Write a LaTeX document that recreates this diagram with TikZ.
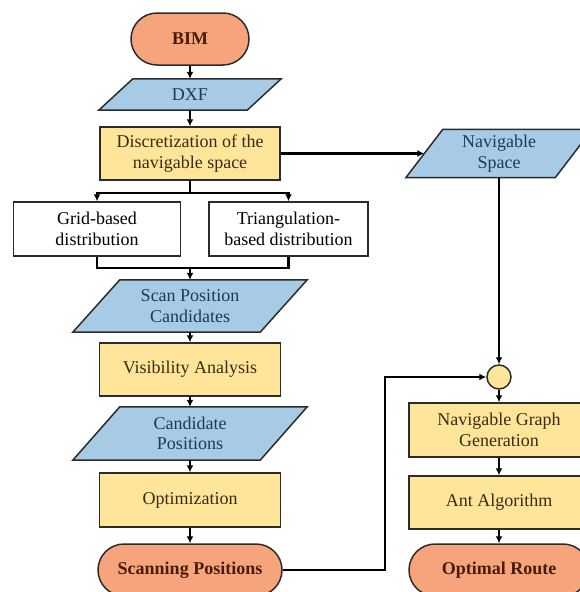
\documentclass[tikz,border=0pt]{standalone}
\usepackage{fontspec}
\setmainfont{Liberation Serif}
\usetikzlibrary{arrows.meta,backgrounds}
\definecolor{orng}{HTML}{F5A47C}
\definecolor{yel}{HTML}{FFE599}
\definecolor{blu}{HTML}{A7CBE5}
\definecolor{edge}{HTML}{2B2B2B}
\definecolor{navy}{HTML}{1C3A56}
\definecolor{brn}{HTML}{3B2A10}
\definecolor{rtxt}{HTML}{4A1C08}
\begin{document}
\begin{tikzpicture}[x=1pt,y=-1pt,
  base/.style={inner sep=0pt, align=center, font=\fontsize{18}{20.5}\selectfont},
  term/.style={base, draw=edge, line width=1.5pt, fill=orng, rounded corners=26pt, text=rtxt, font=\fontsize{18}{20.5}\selectfont\bfseries},
  proc/.style={base, draw=edge, line width=1.5pt, fill=yel, text=brn},
  plainbox/.style={base, draw=edge, line width=1.5pt, fill=white, text=black},
  data/.style={base, text=navy},
  paraedge/.style={draw=edge, line width=1.5pt, fill=blu},
  joint/.style={circle, draw=edge, line width=1.5pt, fill=yel, minimum size=24pt, inner sep=0pt},
  arr/.style={line width=2.4pt, -{Latex[length=7pt,width=7pt]}},
  ln/.style={line width=2.4pt},
]
\useasboundingbox (0,0) rectangle (579,592);

% left column
\node[term, minimum width=118pt, minimum height=52pt] (bim) at (190,39) {BIM};
\node[data, minimum width=148pt, minimum height=31pt] (dxf) at (190,94.5) {DXF};
\node[proc, minimum width=180pt, minimum height=53pt] (disc) at (190,153.5) {Discretization of the\\navigable space};
\node[plainbox, minimum width=167pt, minimum height=54pt] (grid) at (97,229) {Grid-based\\distribution};
\node[plainbox, minimum width=159pt, minimum height=54pt] (tri) at (288.5,229) {Triangulation-\\based distribution};
\node[data, minimum width=187pt, minimum height=52pt] (spc) at (190,306) {Scan Position\\Candidates};
\node[proc, minimum width=181pt, minimum height=53pt] (vis) at (190,369.5) {Visibility Analysis};
\node[data, minimum width=187pt, minimum height=53pt] (cp) at (190,433.5) {Candidate\\Positions};
\node[proc, minimum width=181pt, minimum height=54pt] (opt) at (190,500) {Optimization};
\node[term, minimum width=184pt, minimum height=52pt] (scan) at (190,570) {Scanning Positions};

% right column
\node[data, minimum width=149pt, minimum height=48pt] (nav) at (499,153.5) {Navigable\\Space};
\node[joint] (circ) at (499,377) {};
\node[proc, minimum width=180pt, minimum height=54pt] (ngg) at (499,430) {Navigable Graph\\Generation};
\node[proc, minimum width=180pt, minimum height=53pt] (ant) at (499,502.5) {Ant Algorithm};
\node[term, minimum width=180pt, minimum height=52pt] (route) at (499,570) {Optimal Route};

% parallelograms
\begin{scope}[on background layer]
\draw[paraedge] ([xshift=-17pt]dxf.south west) -- ([xshift=-17pt]dxf.south east) -- ([xshift=17pt]dxf.north east) -- ([xshift=17pt]dxf.north west) -- cycle;
\draw[paraedge] ([xshift=-23.5pt]spc.south west) -- ([xshift=-23.5pt]spc.south east) -- ([xshift=23.5pt]spc.north east) -- ([xshift=23.5pt]spc.north west) -- cycle;
\draw[paraedge] ([xshift=-23.5pt]cp.south west) -- ([xshift=-23.5pt]cp.south east) -- ([xshift=23.5pt]cp.north east) -- ([xshift=23.5pt]cp.north west) -- cycle;
\draw[paraedge] ([xshift=-18.5pt]nav.south west) -- ([xshift=-18.5pt]nav.south east) -- ([xshift=18.5pt]nav.north east) -- ([xshift=18.5pt]nav.north west) -- cycle;
\end{scope}

% connectors
\draw[arr] (bim) -- (dxf);
\draw[arr] (dxf) -- (disc);
\draw[arr] (disc.east) -- (nav.west);
\draw[ln] (disc.south) -- ++(0,12) coordinate (split);
\draw[arr] (split) -| (grid.north);
\draw[arr] (split) -| (tri.north);
\coordinate (merge) at (190,268);
\draw[ln] (grid.south) |- (merge) -| (tri.south);
\draw[arr] (merge) -- (spc.north);
\draw[arr] (spc) -- (vis);
\draw[arr] (vis) -- (cp);
\draw[arr] (cp) -- (opt);
\draw[arr] (opt) -- (scan);
\draw[arr] (nav.south) -- (circ.north);
\draw[arr] (scan.east) -- ++(102,0) |- (circ.west);
\draw[arr] (circ) -- (ngg);
\draw[arr] (ngg) -- (ant);
\draw[arr] (ant) -- (route);
\end{tikzpicture}
\end{document}
